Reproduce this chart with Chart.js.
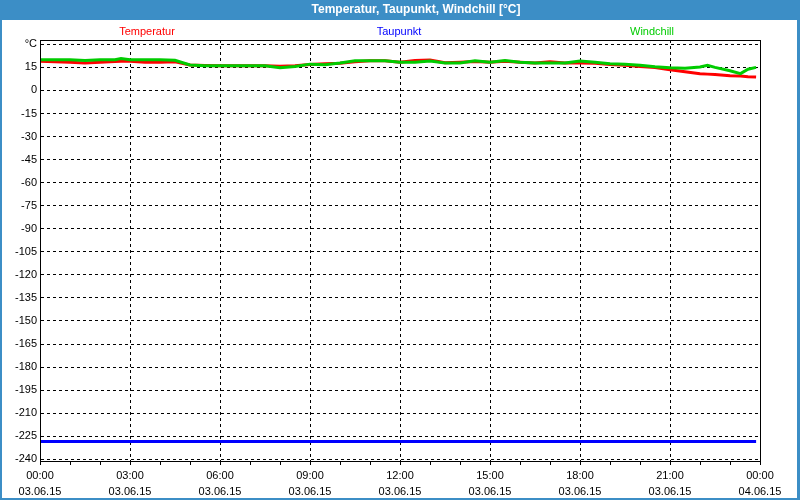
<!DOCTYPE html>
<html>
<head>
<meta charset="utf-8">
<script src="https://cdn.jsdelivr.net/npm/chart.js@4.4.1/dist/chart.umd.min.js"></script>
<style>
  html, body { margin: 0; padding: 0; background: #fff; }
  #wrap { width: 800px; height: 500px; }
</style>
</head>
<body>
<div id="wrap"><canvas id="chart" width="800" height="500"></canvas></div>
<script>
const chartTitle = 'Temperatur, Taupunkt, Windchill [°C]';

// time in hours since 03.06.15 00:00
const hours = [0, 0.5, 1, 1.5, 2, 2.5, 2.7, 3, 3.5, 4,
    4.5, 5, 5.5, 6, 6.5, 7, 7.5, 8, 8.5, 9,
    9.5, 10, 10.5, 11, 11.5, 12, 12.5, 13, 13.5, 14,
    14.5, 15, 15.5, 16, 16.5, 17, 17.5, 18, 18.5, 19,
    19.5, 20, 20.5, 21, 21.5, 22, 22.25, 22.5, 23, 23.35,
    23.6, 23.87];
const temperatur = [19.0, 18.6, 18.4, 17.8, 18.4, 18.8, 19.0, 19.0, 18.4, 18.4,
    18.6, 16.5, 16.2, 16.0, 16.0, 16.0, 16.0, 15.8, 16.0, 16.8,
    17.4, 17.6, 18.6, 19.3, 19.3, 18.3, 19.5, 19.8, 18.0, 18.4,
    18.8, 18.4, 19.0, 18.4, 17.8, 18.6, 17.8, 17.9, 17.6, 16.8,
    16.4, 15.6, 14.9, 13.4, 12.2, 10.9, 10.6, 10.3, 9.5, 9.3,
    8.9, 8.7];
const windchill = [19.9, 19.9, 19.9, 19.4, 19.9, 19.9, 20.8, 19.9, 19.9, 19.9,
    19.6, 16.6, 16.0, 16.0, 16.0, 16.0, 16.0, 14.8, 15.6, 17.1,
    16.7, 17.8, 19.3, 19.3, 19.3, 18.4, 18.4, 19.1, 17.8, 17.8,
    19.3, 18.4, 19.5, 18.4, 17.8, 17.8, 17.8, 19.1, 18.4, 17.4,
    17.1, 16.4, 15.4, 14.8, 14.5, 15.2, 16.3, 15.0, 12.8, 10.9,
    13.8, 15.0];
const taupunktHours = [0, 23.87];
const taupunkt = [-228.4, -228.4];

const yTicks = [30, 15, 0, -15, -30, -45, -60, -75, -90, -105, -120, -135,
    -150, -165, -180, -195, -210, -225, -240];
const xTimeLabels = ['00:00', '03:00', '06:00', '09:00', '12:00', '15:00', '18:00', '21:00', '00:00'];
const xDateLabels = ['03.06.15', '03.06.15', '03.06.15', '03.06.15', '03.06.15',
    '03.06.15', '03.06.15', '03.06.15', '04.06.15'];
const xTickHours = Array.from({ length: 25 }, (_, i) => i);

const blueFrame = '#3c8ec6';
Chart.defaults.font.family = '"Liberation Sans", Arial, sans-serif';
Chart.defaults.font.size = 11;
Chart.defaults.color = '#000';

const toPoints = (xs, ys) => xs.map((x, i) => ({ x: x, y: ys[i] }));

const windowPlugin = {
    id: 'windowFrame',
    beforeDraw(chart) {
        const ctx = chart.ctx;
        ctx.save();
        ctx.fillStyle = '#fff';
        ctx.fillRect(0, 0, 800, 500);
        ctx.fillStyle = blueFrame;
        ctx.fillRect(0, 0, 800, 20);
        ctx.fillRect(0, 0, 2, 500);
        ctx.fillRect(797, 0, 3, 500);
        ctx.fillRect(0, 498, 800, 2);
        ctx.fillStyle = '#fff';
        ctx.font = 'bold 12px "Liberation Sans", Arial, sans-serif';
        ctx.textAlign = 'center';
        ctx.textBaseline = 'middle';
        ctx.fillText(chartTitle, 416, 10);
        ctx.restore();
    },
    afterDraw(chart) {
        const ctx = chart.ctx;
        const a = chart.chartArea;
        ctx.save();
        ctx.strokeStyle = '#000';
        ctx.lineWidth = 1;
        ctx.strokeRect(Math.round(a.left) + 0.5, Math.round(a.top) + 0.5,
            Math.round(a.right - a.left), Math.round(a.bottom - a.top));
        // legend as coloured labels
        const legendX = [147, 399, 652];
        ctx.font = '11px "Liberation Sans", Arial, sans-serif';
        ctx.textAlign = 'center';
        ctx.textBaseline = 'middle';
        chart.data.datasets.forEach((ds, i) => {
            ctx.fillStyle = ds.borderColor;
            ctx.fillText(ds.label, legendX[i], 32);
        });
        ctx.restore();
    }
};

new Chart(document.getElementById('chart'), {
    type: 'line',
    data: {
        datasets: [
            { label: 'Temperatur', data: toPoints(hours, temperatur), borderColor: '#ff0000', order: 1 },
            { label: 'Taupunkt', data: toPoints(taupunktHours, taupunkt), borderColor: '#0000ff', order: 2 },
            { label: 'Windchill', data: toPoints(hours, windchill), borderColor: '#00cc00', order: 0 }
        ]
    },
    options: {
        responsive: false,
        animation: false,
        events: [],
        elements: {
            line: { borderWidth: 3, tension: 0, fill: false },
            point: { radius: 0 }
        },
        layout: { padding: { top: 40, left: 0, right: 40, bottom: 0 } },
        plugins: { legend: { display: false }, tooltip: { enabled: false }, title: { display: false } },
        scales: {
            x: {
                type: 'linear', min: 0, max: 24,
                afterBuildTicks: ax => { ax.ticks = xTickHours.map(v => ({ value: v })); },
                afterFit: s => { s.height = 39; },
                ticks: {
                    autoSkip: false, maxRotation: 0, minRotation: 0, padding: 3,
                    font: { size: 11, lineHeight: 1.45 },
                    callback: v => (v % 3 === 0) ? [xTimeLabels[v / 3], xDateLabels[v / 3]] : ''
                },
                grid: {
                    color: c => (c.tick && c.tick.value % 3 === 0) ? '#000' : 'rgba(0,0,0,0)',
                    tickColor: '#000', tickLength: 4, lineWidth: 1
                },
                border: { display: true, color: '#000', dash: [3, 3] }
            },
            y: {
                min: -241.1, max: 32.8,
                afterBuildTicks: ax => { ax.ticks = yTicks.map(v => ({ value: v })); },
                afterFit: s => { s.width = 40; },
                ticks: { autoSkip: false, padding: 3, callback: v => v === 30 ? '°C' : String(v) },
                grid: { color: '#000', drawTicks: false, lineWidth: 1 },
                border: { display: true, color: '#000', dash: [3, 3] }
            }
        }
    },
    plugins: [windowPlugin]
});
</script>
</body>
</html>
